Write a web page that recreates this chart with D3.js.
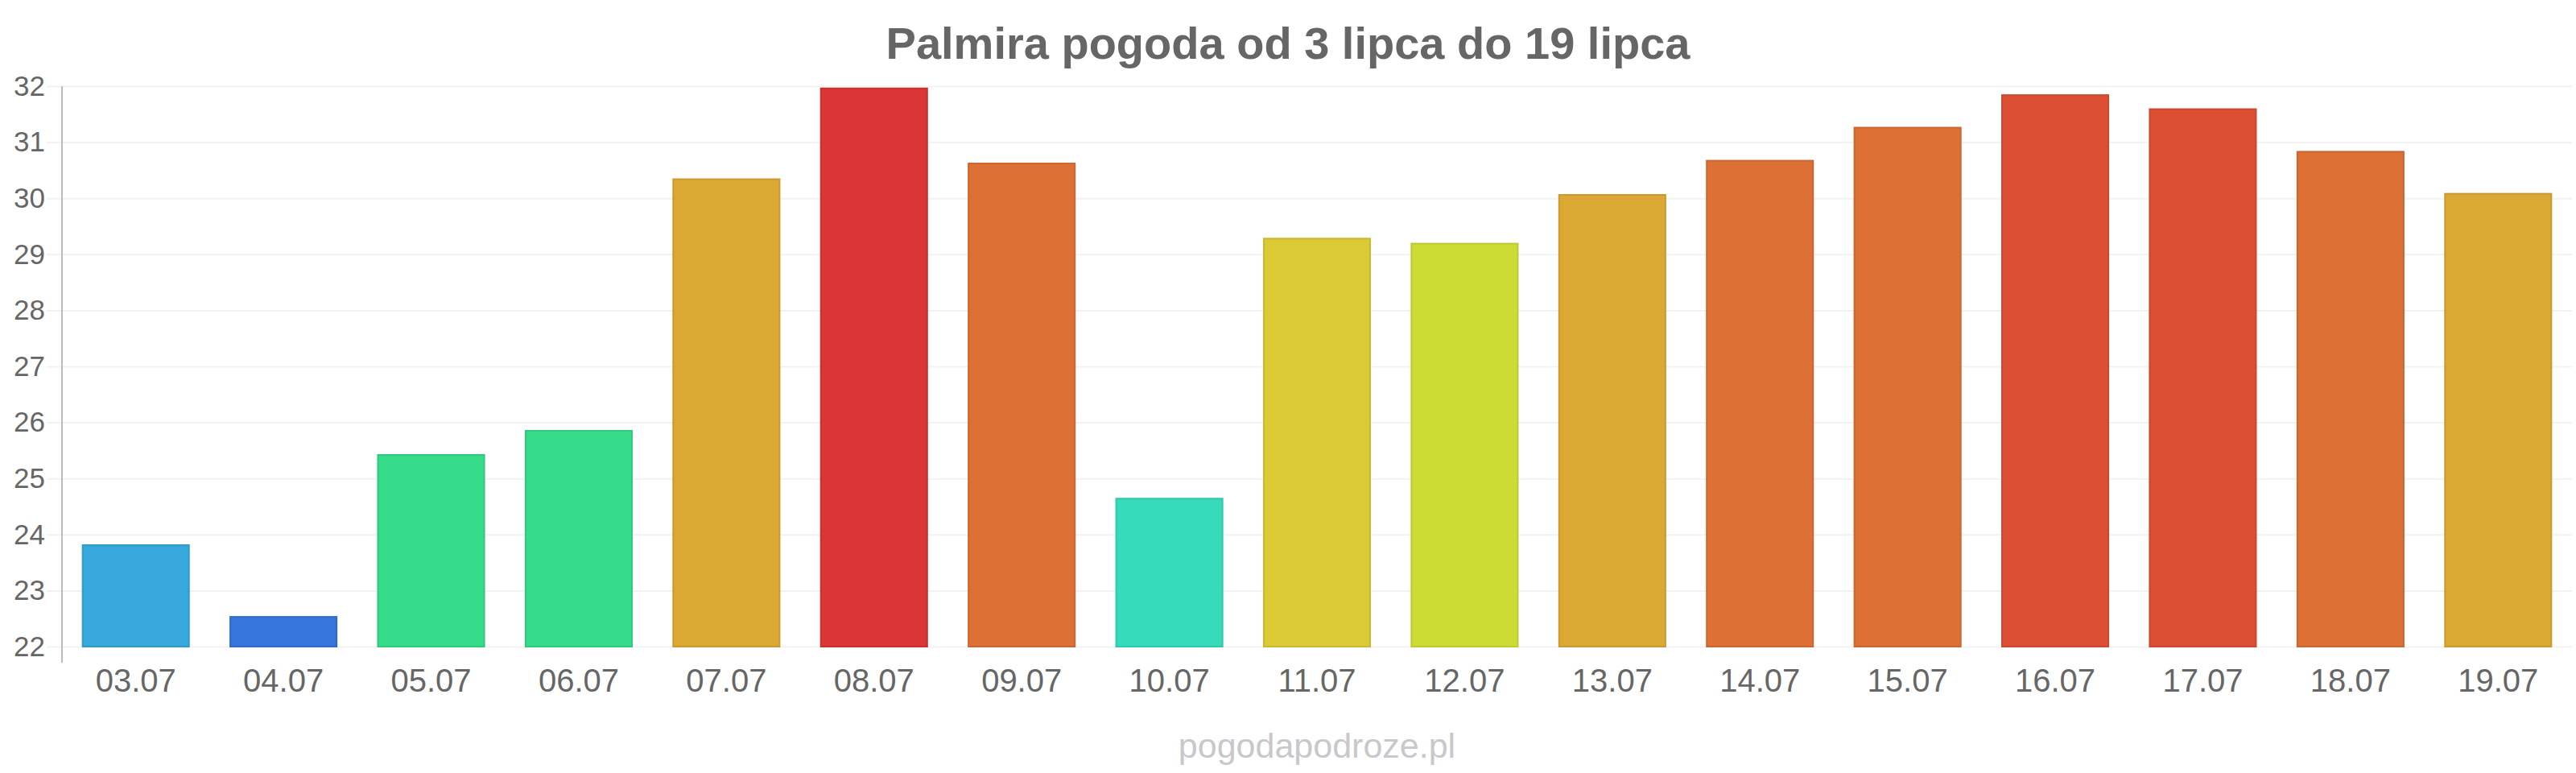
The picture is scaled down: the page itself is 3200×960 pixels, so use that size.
<!DOCTYPE html>
<html>
<head>
<meta charset="utf-8">
<script src="https://cdn.jsdelivr.net/npm/d3@7"></script>
<style>
  html, body { margin: 0; padding: 0; background: #fff; }
  svg { display: block; font-family: "Liberation Sans", Arial, sans-serif; }
</style>
</head>
<body>
<svg id="chart" width="3200" height="960"></svg>
<script>
const categories = ["03.07","04.07","05.07","06.07","07.07","08.07","09.07","10.07","11.07","12.07","13.07","14.07","15.07","16.07","17.07","18.07","19.07"];
const temps = [23.81, 22.53, 25.42, 25.85, 30.34, 31.96, 30.62, 24.64, 29.28, 29.19, 30.06, 30.67, 31.26, 31.84, 31.59, 30.83, 30.08];
const colors = ["#36a8dc","#3575dc","#36db8a","#36db8a","#dca834","#db3535","#dd7035","#35dbba","#dbc935","#cddc35","#dca834","#dd7035","#dd7035","#dc4f35","#dc4f35","#dd7035","#dca834"];
const yTicks = [22,23,24,25,26,27,28,29,30,31,32];
const titleText = "Palmira pogoda od 3 lipca do 19 lipca";
const watermark = "pogodapodroze.pl";

const W = 3200, H = 960;
const m = { left: 77, right: 5, top: 107, bottom: 157 };
const svg = d3.select("#chart");

const x = d3.scaleBand().domain(categories).range([m.left, W - m.right]).paddingInner(0.28).paddingOuter(0.14);
const y = d3.scaleLinear().domain([22, 32]).range([H - m.bottom, m.top]);

// gridlines
const grid = svg.append("g").attr("transform", `translate(${m.left},0)`)
  .call(d3.axisLeft(y).tickValues(yTicks).tickSize(-(W - m.right - m.left)).tickFormat(""));
grid.select(".domain").remove();
grid.selectAll("line").attr("stroke", "#f2f2f2").attr("stroke-width", 2).attr("x1", -19);

// y axis labels
const yAxis = svg.append("g").attr("transform", `translate(${m.left},0)`)
  .call(d3.axisLeft(y).tickValues(yTicks).tickSize(0).tickPadding(21).tickFormat(d3.format("d")));
yAxis.select(".domain").remove();
yAxis.selectAll("text").attr("font-size", 35).attr("fill", "#666").attr("font-family", "Liberation Sans, Arial, sans-serif");

// axis line
svg.append("line").attr("x1", m.left).attr("x2", m.left).attr("y1", m.top).attr("y2", H - m.bottom + 20)
  .attr("stroke", "#bbb").attr("stroke-width", 2);

// bars
svg.append("g").selectAll("rect").data(categories).join("rect")
  .attr("x", d => x(d))
  .attr("width", x.bandwidth())
  .attr("y", (d, i) => y(temps[i]))
  .attr("height", (d, i) => y(22) - y(temps[i]))
  .attr("fill", (d, i) => colors[i])
  .attr("stroke", (d, i) => d3.color(colors[i]).darker(0.25))
  .attr("stroke-width", 2);

// x axis labels
const xAxis = svg.append("g").attr("transform", `translate(0,${H - m.bottom})`)
  .call(d3.axisBottom(x).tickSize(0).tickPadding(28));
xAxis.select(".domain").remove();
xAxis.selectAll("text").attr("font-size", 40).attr("fill", "#666").attr("font-family", "Liberation Sans, Arial, sans-serif");

// title
svg.append("text").attr("x", W / 2).attr("y", 73).attr("text-anchor", "middle")
  .attr("font-size", 56).attr("font-weight", "bold").attr("fill", "#666").text(titleText);

// watermark
svg.append("text").attr("x", (m.left + W - m.right) / 2).attr("y", 941).attr("text-anchor", "middle")
  .attr("font-size", 43).attr("fill", "#c8c8cc").text(watermark);
</script>
</body>
</html>
